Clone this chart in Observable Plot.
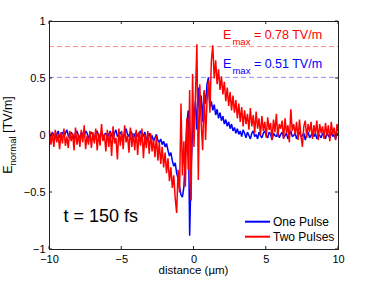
<!DOCTYPE html>
<html><head><meta charset="utf-8">
<script src="https://cdn.jsdelivr.net/npm/d3@7"></script>
<script src="https://cdn.jsdelivr.net/npm/@observablehq/plot@0.6"></script>
<style>body{margin:0;background:#fff}</style>
</head><body><div id="chart"></div>
<script>
const seriesNames = ["One Pulse", "Two Pulses"];
const seriesColors = ["#0000ff", "#ff0000"];
const distanceStart = -10, distanceStep = 0.1;
const onePulse = [
0.02,-0.01,0.03,0.00,-0.03,0.01,0.04,-0.02,0.01,0.03,
-0.01,0.02,0.05,0.00,-0.02,0.03,0.01,-0.03,0.02,0.04,
0.00,-0.02,0.03,0.01,-0.01,0.04,0.02,-0.02,0.00,0.03,
0.01,-0.03,0.02,0.04,-0.01,0.00,0.03,-0.02,0.01,0.02,
-0.02,0.01,0.04,0.00,-0.03,0.02,0.05,-0.01,0.01,0.03,
0.00,-0.02,0.03,0.06,0.01,-0.01,0.04,0.02,-0.03,0.01,
0.03,-0.01,0.02,0.04,-0.02,0.00,0.03,-0.04,-0.01,0.02,
-0.03,0.00,-0.05,-0.02,0.01,-0.04,-0.06,-0.03,-0.08,-0.05,
-0.10,-0.07,-0.13,-0.18,-0.15,-0.22,-0.27,-0.24,-0.33,-0.38,
-0.45,-0.52,-0.54,-0.45,-0.20,0.10,0.22,-0.88,-0.30,0.05,
0.15,0.30,0.05,0.42,0.20,0.35,0.12,0.38,0.28,0.45,
0.51,0.25,0.30,0.22,0.27,0.18,0.23,0.15,0.20,0.13,
0.17,0.10,0.14,0.08,0.12,0.06,0.10,0.04,0.07,0.02,
0.06,0.01,0.04,-0.01,0.05,0.02,-0.02,0.03,0.00,-0.03,
0.02,0.04,-0.01,0.01,-0.03,0.03,0.00,-0.02,0.02,0.04,
0.00,-0.02,0.03,0.01,-0.04,0.02,0.00,-0.01,0.03,-0.02,
0.01,0.03,-0.02,0.00,0.02,-0.03,0.01,0.04,-0.01,0.00,
0.02,-0.03,0.01,0.03,-0.01,0.00,0.02,-0.04,0.01,0.03,
-0.02,0.00,0.03,-0.01,0.02,-0.03,0.01,0.00,-0.02,0.02,
0.01,-0.03,0.02,0.00,-0.02,0.03,-0.01,0.01,-0.03,0.02,0.00];
const twoPulses = [
0.04,-0.08,0.02,-0.10,0.05,-0.06,0.01,-0.12,0.03,-0.07,
0.06,-0.09,-0.01,-0.11,0.04,-0.05,0.02,-0.13,0.07,-0.08,
0.01,-0.10,0.05,-0.06,0.09,-0.12,0.00,-0.08,0.04,-0.11,
0.03,-0.07,0.06,-0.13,0.02,-0.09,0.10,-0.05,0.01,-0.14,
0.05,-0.10,0.03,-0.18,0.08,-0.07,-0.02,-0.21,0.06,-0.09,
0.04,-0.12,0.09,-0.06,0.00,-0.15,0.07,-0.10,0.02,-0.13,
0.05,-0.17,0.03,-0.09,0.06,-0.20,0.01,-0.11,0.04,-0.16,
0.02,-0.14,-0.03,-0.19,0.00,-0.22,-0.06,-0.25,-0.10,-0.28,
-0.15,-0.33,-0.20,-0.40,-0.28,-0.46,-0.35,-0.55,-0.68,-0.30,
-0.50,0.28,-0.35,-0.05,-0.45,0.15,-0.30,0.40,-0.57,0.54,
-0.10,0.35,0.80,-0.39,0.45,0.10,-0.13,0.40,-0.04,0.30,
0.48,0.20,0.65,0.79,0.50,0.66,0.45,0.58,0.40,0.52,
0.36,0.47,0.30,0.42,0.26,0.38,0.22,0.35,0.20,0.31,
0.15,0.28,0.12,0.25,0.08,0.22,0.10,0.19,0.05,0.24,
0.08,0.18,0.02,0.21,0.06,0.15,0.00,0.17,0.04,0.12,
-0.02,0.16,0.05,0.11,-0.04,0.14,0.03,0.19,-0.01,0.10,
0.06,0.13,-0.03,0.15,0.02,0.09,-0.06,0.23,0.04,0.10,
0.01,0.12,-0.04,0.14,0.00,-0.10,0.08,0.13,-0.02,0.10,
0.03,0.12,-0.03,0.09,0.01,0.13,-0.04,0.10,0.02,0.08,
-0.03,0.11,0.00,0.09,-0.05,0.12,0.01,0.07,-0.04,0.10,0.02];
const emaxValues = [0.78, 0.51];
const emaxColors = ["#ff0000", "#0000ff"];
const emaxRuleColors = ["#ff8080", "#8080ff"];
const emaxTexts = [" = 0.78 TV/m", " = 0.51 TV/m"];
const xTicks = [-10, -5, 0, 5, 10];
const xTickLabels = ["\u221210", "\u22125", "0", "5", "10"];
const yTicks = [-1, -0.5, 0, 0.5, 1];
const yTickLabels = ["\u22121", "\u22120.5", "0", "0.5", "1"];
const timeLabel = "t = 150 fs";
const xLabel = "distance (\u00b5m)";

const distance = onePulse.map((_, i) => +(distanceStart + i * distanceStep).toFixed(2));
const rows = [];
[onePulse, twoPulses].forEach((vals, s) => vals.forEach((v, i) => rows.push({x: distance[i], y: v, series: seriesNames[s]})));

const font = "'Liberation Sans', Arial, Helvetica, sans-serif";
const chart = Plot.plot({
  width: 374, height: 281,
  marginLeft: 49, marginRight: 36, marginTop: 21, marginBottom: 32,
  style: {fontFamily: font, background: "#fff", color: "#000"},
  x: {domain: [-10, 10]},
  y: {domain: [-1, 1]},
  color: {domain: seriesNames, range: seriesColors},
  marks: [
    ...emaxValues.map((v, i) => Plot.ruleY([v], {stroke: emaxRuleColors[i], strokeOpacity: 0.9, strokeDasharray: "5,3", strokeWidth: 1})),
    Plot.line(rows, {x: "x", y: "y", z: "series", stroke: "series", strokeWidth: 1.5, strokeLinejoin: "miter"}),
    Plot.axisX({ticks: xTicks, tickSize: 0, tickPadding: 6, tickFormat: (d) => xTickLabels[xTicks.indexOf(d)], label: null, fontSize: 11}),
    Plot.axisY({ticks: yTicks, tickSize: 0, tickPadding: 4, tickFormat: (d) => yTickLabels[yTicks.indexOf(d)], label: null, fontSize: 11}),
    Plot.frame({stroke: "#222", strokeWidth: 1})
  ]
});
document.getElementById("chart").appendChild(chart);

const sx = chart.scale("x"), sy = chart.scale("y");
const X = v => sx.apply(v), Y = v => sy.apply(v);
const [x0, x1] = sx.range, [yb, yt] = sy.range;
const svg = d3.select(chart);
const g = svg.append("g").attr("font-family", font).attr("text-anchor", "start");

// inward ticks on all four sides
xTicks.forEach(t => {
  g.append("line").attr("x1", X(t)).attr("x2", X(t)).attr("y1", yb).attr("y2", yb - 3).attr("stroke", "#222");
  g.append("line").attr("x1", X(t)).attr("x2", X(t)).attr("y1", yt).attr("y2", yt + 3).attr("stroke", "#222");
});
yTicks.forEach(t => {
  g.append("line").attr("y1", Y(t)).attr("y2", Y(t)).attr("x1", x0).attr("x2", x0 + 3).attr("stroke", "#222");
  g.append("line").attr("y1", Y(t)).attr("y2", Y(t)).attr("x1", x1).attr("x2", x1 - 3).attr("stroke", "#222");
});

// E_max annotations
const annotX = 2.05;
const annotDy = [-7, -8.5];
emaxValues.forEach((v, i) => {
  const t = g.append("text").attr("x", X(annotX)).attr("y", Y(v) + annotDy[i])
    .attr("fill", emaxColors[i]).attr("font-size", 12.5);
  t.append("tspan").text("E");
  t.append("tspan").attr("dy", 5.7).attr("dx", 1).attr("font-size", 9.5).text("max");
  t.append("tspan").attr("dy", -5.7).text(emaxTexts[i]);
});

// time label
g.append("text").attr("x", X(-9)).attr("y", Y(-0.76)).attr("font-size", 18).attr("fill", "#000").text(timeLabel);

// axis labels
g.append("text").attr("x", (x0 + x1) / 2).attr("y", 274).attr("text-anchor", "middle")
  .attr("font-size", 11.5).attr("fill", "#000").text(xLabel);
const yl = g.append("text").attr("transform", `translate(11.7,${(yb + yt) / 2}) rotate(-90)`)
  .attr("text-anchor", "middle").attr("font-size", 12.5).attr("fill", "#000");
yl.append("tspan").text("E");
yl.append("tspan").attr("dy", 4).attr("font-size", 9.5).text("normal");
yl.append("tspan").attr("dy", -4).text(" [TV/m]");

// legend
seriesNames.forEach((name, i) => {
  const ly = yb - 27.3 + i * 15;
  g.append("line").attr("x1", x1 - 93).attr("x2", x1 - 68).attr("y1", ly).attr("y2", ly)
    .attr("stroke", seriesColors[i]).attr("stroke-width", 2);
  g.append("text").attr("x", x1 - 65).attr("y", ly + 4.2).attr("font-size", 12).attr("fill", "#000").text(name);
});
</script>
</body></html>
